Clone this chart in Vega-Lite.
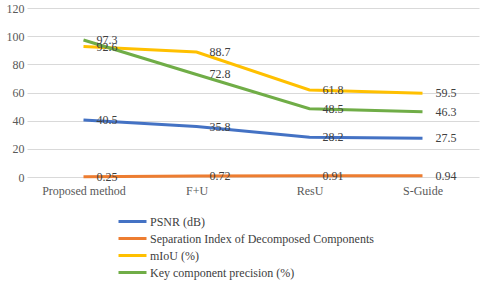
{
  "$schema": "https://vega.github.io/schema/vega-lite/v6.json",
  "width": 452,
  "height": 169,
  "autosize": {"type": "none"},
  "padding": {"left": 27, "top": 8, "right": 1, "bottom": 105},
  "background": "white",
  "config": {
    "view": {"stroke": null},
    "font": "Liberation Serif",
    "axis": {"labelFont": "Liberation Serif"},
    "legend": {"labelFont": "Liberation Serif"},
    "text": {"font": "Liberation Serif"}
  },
  "data": {
    "values": [
      {"method": "Proposed method", "series": "PSNR (dB)", "value": 40.5, "label": "40.5"},
      {"method": "F+U", "series": "PSNR (dB)", "value": 35.8, "label": "35.8"},
      {"method": "ResU", "series": "PSNR (dB)", "value": 28.2, "label": "28.2"},
      {"method": "S-Guide", "series": "PSNR (dB)", "value": 27.5, "label": "27.5"},
      {"method": "Proposed method", "series": "Separation Index of Decomposed Components", "value": 0.25, "label": "0.25"},
      {"method": "F+U", "series": "Separation Index of Decomposed Components", "value": 0.72, "label": "0.72"},
      {"method": "ResU", "series": "Separation Index of Decomposed Components", "value": 0.91, "label": "0.91"},
      {"method": "S-Guide", "series": "Separation Index of Decomposed Components", "value": 0.94, "label": "0.94"},
      {"method": "Proposed method", "series": "mIoU (%)", "value": 92.6, "label": "92.6"},
      {"method": "F+U", "series": "mIoU (%)", "value": 88.7, "label": "88.7"},
      {"method": "ResU", "series": "mIoU (%)", "value": 61.8, "label": "61.8"},
      {"method": "S-Guide", "series": "mIoU (%)", "value": 59.5, "label": "59.5"},
      {"method": "Proposed method", "series": "Key component precision (%)", "value": 97.3, "label": "97.3"},
      {"method": "F+U", "series": "Key component precision (%)", "value": 72.8, "label": "72.8"},
      {"method": "ResU", "series": "Key component precision (%)", "value": 48.5, "label": "48.5"},
      {"method": "S-Guide", "series": "Key component precision (%)", "value": 46.3, "label": "46.3"}
    ]
  },
  "encoding": {
    "x": {
      "field": "method",
      "type": "nominal",
      "sort": ["Proposed method", "F+U", "ResU", "S-Guide"],
      "scale": {"type": "point", "padding": 0.5},
      "axis": {
        "title": null,
        "labelAngle": 0,
        "labelFont": "Liberation Serif",
        "labelFontSize": 12,
        "labelColor": "#595959",
        "labelPadding": 8,
        "ticks": false,
        "domain": false,
        "grid": false
      }
    },
    "y": {
      "field": "value",
      "type": "quantitative",
      "scale": {"domain": [0, 120]},
      "axis": {
        "title": null,
        "values": [0, 20, 40, 60, 80, 100, 120],
        "labelFont": "Liberation Serif",
        "labelFontSize": 12,
        "labelColor": "#595959",
        "labelPadding": 3,
        "ticks": false,
        "domain": false,
        "grid": true,
        "gridColor": "#d9d9d9",
        "gridWidth": 1
      }
    },
    "color": {
      "field": "series",
      "type": "nominal",
      "sort": ["PSNR (dB)", "Separation Index of Decomposed Components", "mIoU (%)", "Key component precision (%)"],
      "scale": {
        "domain": ["PSNR (dB)", "Separation Index of Decomposed Components", "mIoU (%)", "Key component precision (%)"],
        "range": ["#4472C4", "#ED7D31", "#FFC000", "#70AD47"]
      },
      "legend": {
        "title": null,
        "orient": "none",
        "legendX": 97,
        "legendY": 205,
        "symbolType": "M-2,0H2",
        "symbolSize": 196,
        "symbolStrokeWidth": 3,
        "labelFont": "Liberation Serif",
        "labelFontSize": 12,
        "labelColor": "#404040",
        "labelLimit": 400,
        "labelOffset": 9,
        "rowPadding": 2
      }
    }
  },
  "layer": [
    {
      "mark": {"type": "line", "strokeWidth": 3}
    },
    {
      "mark": {"type": "text", "align": "left", "baseline": "middle", "dx": 13, "fontSize": 12, "font": "Liberation Serif", "color": "#404040"},
      "encoding": {
        "text": {"field": "label"},
        "color": {"value": "#404040"}
      }
    }
  ]
}
